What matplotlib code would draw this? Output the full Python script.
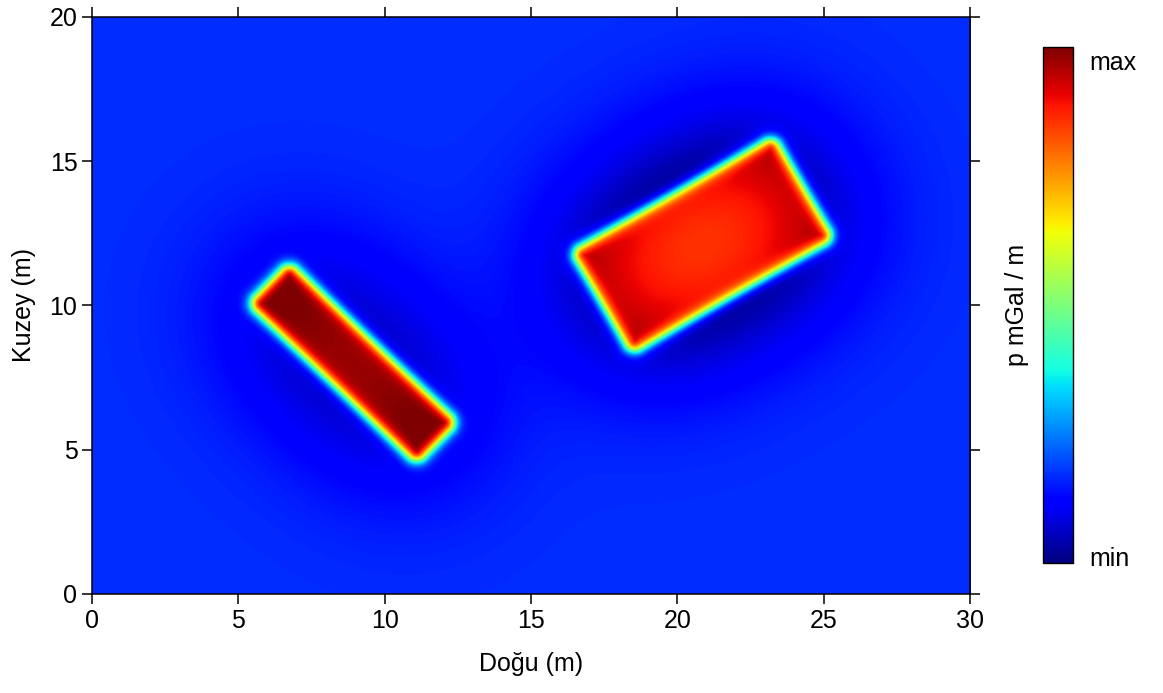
import numpy as np
import matplotlib.pyplot as plt

plt.rcParams['font.family'] = ['Liberation Sans', 'DejaVu Sans']

# --- govde (prizma) parametreleri ---
govde_merkez_x = [8.9, 20.85]
govde_merkez_y = [8.0, 12.1]
govde_boy = [8.0, 8.0]
govde_en = [2.0, 4.1]
govde_aci = [-44.0, 30.0]     # derece
govde_genlik = [0.93, 0.915]

x_ticks = [0, 5, 10, 15, 20, 25, 30]
y_ticks = [0, 5, 10, 15, 20]
cbar_etiket = ['min', 'max']

# --- grid ---
dx = 0.05
x = np.arange(0, 30 + dx / 2, dx)
y = np.arange(0, 20 + dx / 2, dx)
X, Y = np.meshgrid(x, y)


def kutu_sdf(X, Y, cx, cy, L, W, aci, r=0.35):
    t = np.deg2rad(aci)
    u = (X - cx) * np.cos(t) + (Y - cy) * np.sin(t)
    v = -(X - cx) * np.sin(t) + (Y - cy) * np.cos(t)
    qx = np.abs(u) - (L / 2 - r)
    qy = np.abs(v) - (W / 2 - r)
    dis = np.hypot(np.maximum(qx, 0), np.maximum(qy, 0))
    ic = np.minimum(np.maximum(qx, qy), 0)
    return dis + ic - r


def gauss_blur(A, sigma):
    n = int(4 * sigma / dx)
    k = np.exp(-0.5 * (np.arange(-n, n + 1) * dx / sigma) ** 2)
    k /= k.sum()
    A = np.pad(A, n, mode='constant')
    A = np.apply_along_axis(lambda m: np.convolve(m, k, mode='same'), 0, A)
    A = np.apply_along_axis(lambda m: np.convolve(m, k, mode='same'), 1, A)
    return A[n:-n, n:-n]


alan = np.zeros_like(X)
for i in range(len(govde_boy)):
    d = kutu_sdf(X, Y, govde_merkez_x[i], govde_merkez_y[i], govde_boy[i], govde_en[i], govde_aci[i])
    g = 1 / (1 + np.exp(d / 0.13))
    alan += govde_genlik[i] * g - 0.42 * gauss_blur(g, 2.4)

vmin, vmax = -0.17, 0.83

fig = plt.figure(figsize=(11.63, 6.93), dpi=100)
ax = fig.add_axes([0.0791, 0.1429, 0.755, 0.8326])
im = ax.imshow(alan, origin='lower', extent=[0, 30, 0, 20], cmap='jet',
               vmin=vmin, vmax=vmax, aspect='auto', interpolation='bilinear')
ax.set_xlim(0, 30)
ax.set_ylim(0, 20)
ax.set_xticks(x_ticks)
ax.set_yticks(y_ticks)
ax.tick_params(direction='out', length=7.5, width=1.1, labelsize=18, pad=3,
               top=True, right=True, labeltop=False, labelright=False)
for s in ax.spines.values():
    s.set_linewidth(1.1)
ax.set_xlabel('Doğu (m)', fontsize=18, labelpad=14)
ax.set_ylabel('Kuzey (m)', fontsize=18, labelpad=10)

cax = fig.add_axes([0.8968, 0.1876, 0.0258, 0.7444])
cb = fig.colorbar(im, cax=cax)
# min/max etiketleri cubugun biraz icinde
cb.set_ticks([vmin + 0.012, vmax - 0.025])
cb.set_ticklabels(cbar_etiket)
cb.ax.tick_params(length=0, labelsize=18, pad=12)
cb.outline.set_linewidth(1.0)
cb.ax.yaxis.set_label_position('left')
cb.set_label('p mGal / m', fontsize=18, labelpad=10)

fig.savefig('out.png', dpi=100)
